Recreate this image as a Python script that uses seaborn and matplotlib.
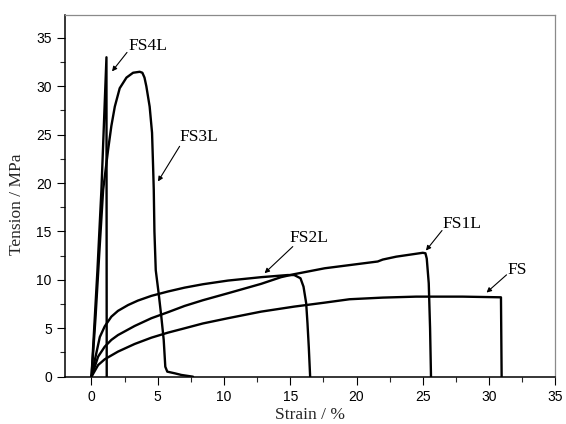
import matplotlib
matplotlib.use("Agg")
import matplotlib.pyplot as plt
from matplotlib.ticker import MultipleLocator
import seaborn as sns

# Stress-strain curves (strain in %, tension in MPa)
fs_strain = [0, 0.5, 1.0, 2.0, 3.26, 4.52, 5.77, 7.03, 8.41, 10.3, 12.8, 15.3,
             17.6, 19.47, 21.98, 24.5, 28.0, 30.9, 30.95]
fs_tension = [0, 1.2, 1.8, 2.59, 3.38, 4.03, 4.55, 5.0, 5.5, 6.04, 6.72, 7.24,
              7.65, 8.0, 8.17, 8.27, 8.27, 8.2, 0]

fs1l_strain = [0, 0.5, 1.0, 1.5, 2.0, 3.26, 4.52, 5.77, 7.03, 8.41, 10.3, 12.8,
               14.3, 15.3, 17.6, 21.6, 21.98, 23.0, 24.0, 25.0, 25.2, 25.3,
               25.45, 25.55, 25.62]
fs1l_tension = [0, 2.07, 3.1, 3.8, 4.3, 5.24, 6.04, 6.66, 7.31, 7.9, 8.62, 9.59,
                10.28, 10.59, 11.2, 11.9, 12.1, 12.4, 12.6, 12.8, 12.75, 12.2,
                9.65, 5.0, 0]

fs2l_strain = [0, 0.25, 0.63, 1.0, 1.5, 2.0, 2.76, 3.5, 4.52, 5.77, 7.03, 8.41,
               10.3, 12.8, 14.8, 15.3, 15.77, 16.0, 16.2, 16.3, 16.4, 16.5]
fs2l_tension = [0, 1.7, 4.1, 5.2, 6.2, 6.8, 7.4, 7.86, 8.35, 8.8, 9.2, 9.55,
                9.93, 10.28, 10.5, 10.5, 10.17, 9.3, 7.6, 5.5, 3.0, 0]

fs3l_strain = [0, 0.3, 0.6, 0.88, 1.25, 1.5, 1.76, 2.13, 2.64, 3.14, 3.64, 3.84,
               4.0, 4.14, 4.39, 4.57, 4.65, 4.7, 4.75, 4.85, 5.07, 5.27, 5.45,
               5.57, 5.72, 6.28, 6.78, 7.66]
fs3l_tension = [0, 6.0, 13.0, 19.3, 23.4, 25.9, 27.9, 29.8, 30.9, 31.4, 31.5,
                31.4, 30.9, 30.0, 27.9, 25.2, 21.7, 19.3, 15.0, 11.0, 8.6, 6.2,
                3.8, 1.03, 0.52, 0.35, 0.18, 0]

fs4l_strain = [0, 0.45, 0.75, 1.13, 1.15]
fs4l_tension = [0, 11.0, 19.3, 33.0, 0]

curve_names = ["FS", "FS1L", "FS2L", "FS3L", "FS4L"]

# Label text anchor, arrow tail and arrow tip, in data units
label_text_xy = [(31.4, 10.62), (26.5, 15.35), (14.94, 13.96), (6.65, 24.3), (2.76, 33.78)]
arrow_tail_xy = [(31.32, 10.52), (26.45, 15.1), (15.19, 13.44), (6.65, 23.8), (2.68, 33.5)]
arrow_tip_xy = [(29.81, 8.69), (25.24, 13.03), (13.06, 10.69), (5.02, 20.17), (1.55, 31.54)]

x_label = "Strain / %"
y_label = "Tension / MPa"

sns.set_style("ticks")
plt.rcParams["font.family"] = ["Liberation Sans", "DejaVu Sans"]

fig = plt.figure(figsize=(5.66, 4.24), dpi=100)
ax = fig.add_axes([0.1148, 0.1116, 0.8663, 0.8538])

curves = [(fs_strain, fs_tension), (fs1l_strain, fs1l_tension),
          (fs2l_strain, fs2l_tension), (fs3l_strain, fs3l_tension),
          (fs4l_strain, fs4l_tension)]
for xs, ys in curves:
    sns.lineplot(x=xs, y=ys, sort=False, estimator=None, color="black",
                 lw=1.7, ax=ax, legend=False)

serif = ["Liberation Serif", "DejaVu Serif"]
for name, txy, tail, tip in zip(curve_names, label_text_xy, arrow_tail_xy, arrow_tip_xy):
    ax.text(txy[0], txy[1], name, fontsize=12.5, family=serif,
            ha="left", va="baseline", color="black")
    ax.annotate("", xy=tip, xytext=tail,
                arrowprops=dict(arrowstyle="-|>", lw=0.8, color="black",
                                mutation_scale=7, shrinkA=0, shrinkB=0))

ax.set_xlim(-2, 35)
ax.set_ylim(0, 37.4)
ax.xaxis.set_major_locator(MultipleLocator(5))
ax.xaxis.set_minor_locator(MultipleLocator(2.5))
ax.yaxis.set_major_locator(MultipleLocator(5))
ax.yaxis.set_minor_locator(MultipleLocator(2.5))

ax.tick_params(which="major", direction="out", length=6, width=0.8,
               labelsize=10, pad=3.5, colors="black")
ax.tick_params(which="minor", direction="out", length=3.5, width=0.8)
ax.tick_params(top=False, right=False, which="both")

for side in ("left", "bottom"):
    ax.spines[side].set_color("black")
    ax.spines[side].set_linewidth(1.1)
for side in ("top", "right"):
    ax.spines[side].set_visible(True)
    ax.spines[side].set_color("#8a8a8a")
    ax.spines[side].set_linewidth(0.9)

ax.set_xlabel(x_label, fontsize=12.5, family=serif, labelpad=2)
ax.set_ylabel(y_label, fontsize=12.5, family=serif)
ax.yaxis.set_label_coords(-0.082, 0.477)

fig.savefig("out.png", dpi=100, facecolor="white")
